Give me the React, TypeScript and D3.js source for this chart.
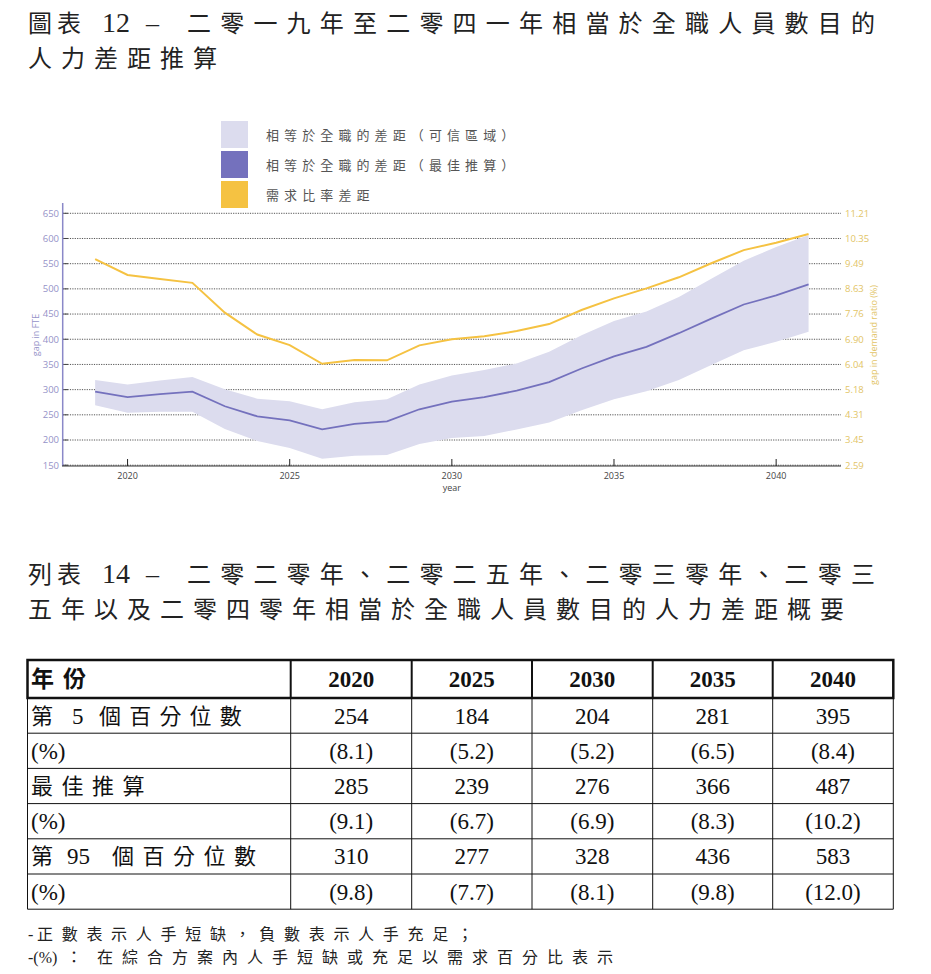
import React from 'react';
import * as d3 from 'd3';

const years = [2019, 2020, 2021, 2022, 2023, 2024, 2025, 2026, 2027, 2028, 2029, 2030, 2031, 2032, 2033, 2034, 2035, 2036, 2037, 2038, 2039, 2040, 2041];
const bestEstimate = [296, 285, 291, 296, 267, 247, 239, 221, 232, 237, 261, 276, 285, 298, 315, 342, 366, 385, 412, 441, 469, 487, 509];
const upper95 = [319, 310, 318, 325, 301, 282, 277, 261, 275, 281, 310, 328, 339, 352, 375, 408, 436, 455, 484, 520, 556, 583, 607];
const lower5 = [269, 254, 256, 256, 222, 198, 184, 163, 169, 170, 192, 204, 208, 221, 235, 259, 281, 297, 319, 349, 378, 395, 415];
const demandRatio = [9.64, 9.1, 8.96, 8.83, 7.81, 7.06, 6.7, 6.06, 6.19, 6.18, 6.69, 6.9, 7.0, 7.18, 7.42, 7.9, 8.3, 8.64, 9.02, 9.5, 9.95, 10.2, 10.5];

const leftTicks = [150, 200, 250, 300, 350, 400, 450, 500, 550, 600, 650];
const rightTicks = ['2.59', '3.45', '4.31', '5.18', '6.04', '6.90', '7.76', '8.63', '9.49', '10.35', '11.21'];
const xTicks = [2020, 2025, 2030, 2035, 2040];

const legendLabels = ['相等於全職的差距（可信區域）', '相等於全職的差距（最佳推算）', '需求比率差距'];

const tableYears = ['2020', '2025', '2030', '2035', '2040'];
const rowP5 = ['254', '184', '204', '281', '395'];
const rowP5Pct = ['(8.1)', '(5.2)', '(5.2)', '(6.5)', '(8.4)'];
const rowBest = ['285', '239', '276', '366', '487'];
const rowBestPct = ['(9.1)', '(6.7)', '(6.9)', '(8.3)', '(10.2)'];
const rowP95 = ['310', '277', '328', '436', '583'];
const rowP95Pct = ['(9.8)', '(7.7)', '(8.1)', '(9.8)', '(12.0)'];
const tableRows = [rowP5, rowP5Pct, rowBest, rowBestPct, rowP95, rowP95Pct];

const BAND = '#dcdcee';
const LINE = '#7471bd';
const GOLD = '#f5c242';
const SERIF = "'Liberation Serif', 'Noto Sans CJK TC', serif";
const CJK = "'Noto Sans CJK TC', sans-serif";
const SANS = "'Open Sans', 'Noto Sans', sans-serif";

type Seg = { t: string; x: number; ls?: number; size?: number };

function Label({ y, segs, size, weight, fill = '#111', dy }: { y: number; segs: Seg[]; size: number; weight?: number; fill?: string; dy?: string }) {
  return (
    <text y={y} dy={dy} fontFamily={SERIF} fontSize={size} fontWeight={weight} fill={fill}>
      {segs.map((s, i) => (
        <tspan key={i} x={s.x} letterSpacing={s.ls || 0} fontSize={s.size || size}>{s.t}</tspan>
      ))}
    </text>
  );
}

export default function App() {
  const x = d3.scaleLinear().domain([2018, 2042]).range([62.7, 841]);
  const yL = d3.scaleLinear().domain([150, 650]).range([465.2, 213.3]);
  const yR = d3.scaleLinear().domain([2.59, 11.21]).range([465.2, 213.3]);

  const area = d3.area<number>()
    .x((_, i) => x(years[i]))
    .y0((_, i) => yL(lower5[i]))
    .y1((_, i) => yL(upper95[i]));
  const bestLine = d3.line<number>().x((_, i) => x(years[i])).y((d) => yL(d));
  const ratioLine = d3.line<number>().x((_, i) => x(years[i])).y((d) => yR(d));

  const colEdges = [27.5, 290.7, 411.7, 532, 652.7, 772.7, 893.3];
  const headerTop = 660;
  const headerBottom = 698;
  const rowH = 35.2;

  const rowLabelSegs: Seg[][] = [
    [{ t: '第', x: 31 }, { t: '5', x: 72, size: 23 }, { t: '個百分位數', x: 99, ls: 8.2 }],
    [{ t: '(%)', x: 31, size: 23 }],
    [{ t: '最佳推算', x: 31, ls: 8.5 }],
    [{ t: '(%)', x: 31, size: 23 }],
    [{ t: '第', x: 31 }, { t: '95', x: 67, size: 23 }, { t: '個百分位數', x: 112, ls: 8.5 }],
    [{ t: '(%)', x: 31, size: 23 }],
  ];

  return (
    <svg width={931} height={974} style={{ position: 'absolute', left: 0, top: 0, background: '#fff' }}>
      {/* Title */}
      <Label y={32} size={24} fill="#222" segs={[
        { t: '圖表', x: 28, ls: 5 }, { t: '12', x: 102, size: 28 }, { t: '–', x: 146, size: 26 },
        { t: '二零一九年至二零四一年相當於全職人員數目的', x: 187, ls: 9.2 },
      ]} />
      <Label y={67} size={24} fill="#222" segs={[{ t: '人力差距推算', x: 28, ls: 9 }]} />

      {/* Legend */}
      {legendLabels.map((l, i) => (
        <g key={l}>
          <rect x={221} y={121 + i * 30} width={27} height={27} fill={[BAND, LINE, GOLD][i]} />
          <text x={266} y={135 + i * 30} dy="0.35em" fontFamily={CJK} fontSize={13} letterSpacing={5.1} fill="#555">
            {l}
          </text>
        </g>
      ))}

      {/* Grid */}
      {leftTicks.map((t) => (
        <g key={t}>
          <line x1={62.7} x2={841} y1={yL(t)} y2={yL(t)} stroke="#555" strokeWidth={1} strokeDasharray="1.2,1.2" />
          <line x1={62.7} x2={68} y1={yL(t)} y2={yL(t)} stroke="#444" strokeWidth={1} />
          <text x={59} y={yL(t)} dy="0.35em" textAnchor="end" fontFamily={SANS} fontSize={9.5} fill="#9592c8">
            {t}
          </text>
        </g>
      ))}
      {rightTicks.map((t) => (
        <text key={t} x={845} y={yR(+t)} dy="0.35em" fontFamily={SANS} fontSize={9.5} fill="#e2c466">
          {t}
        </text>
      ))}

      {/* Data */}
      <path d={area(bestEstimate) || ''} fill={BAND} />
      <path d={bestLine(bestEstimate) || ''} fill="none" stroke={LINE} strokeWidth={1.8} />
      <path d={ratioLine(demandRatio) || ''} fill="none" stroke={GOLD} strokeWidth={2} />

      {/* Axes */}
      <line x1={62.7} x2={62.7} y1={203} y2={466} stroke="#8a88c8" strokeWidth={1.5} />
      <line x1={62} x2={841} y1={466} y2={466} stroke="#333" strokeWidth={1} />
      {xTicks.map((t) => (
        <g key={t}>
          <line x1={x(t)} x2={x(t)} y1={459} y2={466} stroke="#222" strokeWidth={1} />
          <text x={x(t)} y={476} dy="0.35em" textAnchor="middle" fontFamily={SANS} fontSize={9} fill="#444">
            {t}
          </text>
        </g>
      ))}
      <text x={x(2030)} y={487.5} dy="0.35em" textAnchor="middle" fontFamily={SANS} fontSize={9} fill="#444">
        year
      </text>
      <text transform="translate(36,335) rotate(-90)" textAnchor="middle" dy="0.35em" fontFamily={SANS} fontSize={9} fill="#9592c8">
        gap in FTE
      </text>
      <text transform="translate(874,335) rotate(-90)" textAnchor="middle" dy="0.35em" fontFamily={SANS} fontSize={9} fill="#e2c466">
        gap in demand ratio (%)
      </text>

      {/* Second title */}
      <Label y={583} size={24} fill="#222" segs={[
        { t: '列表', x: 28, ls: 5 }, { t: '14', x: 102, size: 28 }, { t: '–', x: 146, size: 26 },
        { t: '二零二零年、二零二五年、二零三零年、二零三', x: 187, ls: 9.2 },
      ]} />
      <Label y={618} size={24} fill="#222" segs={[{ t: '五年以及二零四零年相當於全職人員數目的人力差距概要', x: 28, ls: 9 }]} />

      {/* Table header */}
      <text x={31} y={(headerTop + headerBottom) / 2} dy="0.36em" fontFamily={CJK} fontWeight={700} fontSize={23} letterSpacing={9} fill="#111">
        年份
      </text>
      {tableYears.map((yr, j) => (
        <text key={yr} x={(colEdges[j + 1] + colEdges[j + 2]) / 2} y={(headerTop + headerBottom) / 2} dy="0.35em" textAnchor="middle"
          fontFamily={SERIF} fontWeight={700} fontSize={23} fill="#111">
          {yr}
        </text>
      ))}

      {/* Table body */}
      {tableRows.map((row, i) => {
        const top = headerBottom + i * rowH;
        const cy = top + rowH / 2;
        return (
          <g key={i}>
            <Label y={cy} dy="0.36em" size={22} segs={rowLabelSegs[i]} />
            {row.map((v, j) => (
              <text key={j} x={(colEdges[j + 1] + colEdges[j + 2]) / 2} y={cy} dy="0.35em" textAnchor="middle" fontFamily={SERIF} fontSize={23} fill="#111">
                {v}
              </text>
            ))}
            <line x1={colEdges[0]} x2={colEdges[6]} y1={top + rowH} y2={top + rowH} stroke="#111" strokeWidth={1} />
          </g>
        );
      })}
      {colEdges.map((cx, k) => (
        <line key={'v' + k} x1={cx} x2={cx} y1={headerBottom} y2={headerBottom + 6 * rowH} stroke="#111" strokeWidth={1} />
      ))}
      <rect x={colEdges[0]} y={headerTop} width={colEdges[6] - colEdges[0]} height={headerBottom - headerTop} fill="none" stroke="#111" strokeWidth={2.5} />
      {colEdges.slice(1, 6).map((cx, k) => (
        <line key={'h' + k} x1={cx} x2={cx} y1={headerTop} y2={headerBottom} stroke="#111" strokeWidth={2} />
      ))}

      {/* Footnotes */}
      <Label y={940} size={16} fill="#222" segs={[{ t: '-', x: 28 }, { t: '正數表示人手短缺，負數表示人手充足；', x: 37, ls: 8.7 }]} />
      <Label y={963} size={16} fill="#222" segs={[{ t: '-(%)', x: 28 }, { t: '：', x: 66 }, { t: '在綜合方案內人手短缺或充足以需求百分比表示', x: 97, ls: 9.0 }]} />
    </svg>
  );
}
